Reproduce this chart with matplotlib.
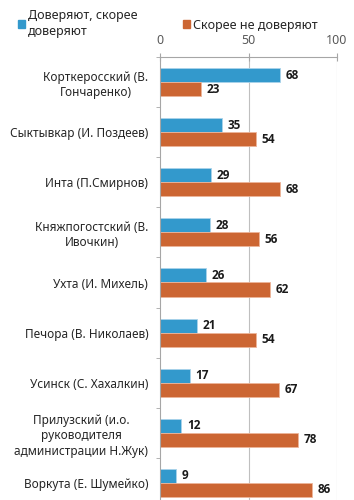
import matplotlib
matplotlib.use("Agg")
import matplotlib.pyplot as plt
from matplotlib.patches import Patch
import numpy as np

plt.rcParams['font.family'] = ['Noto Sans', 'DejaVu Sans']

categories = [
    "Корткеросский (В.\nГончаренко)",
    "Сыктывкар (И. Поздеев)",
    "Инта (П.Смирнов)",
    "Княжпогостский (В.\nИвочкин)",
    "Ухта (И. Михель)",
    "Печора (В. Николаев)",
    "Усинск (С. Хахалкин)",
    "Прилузский (и.о.\nруководителя\nадминистрации Н.Жук)",
    "Воркута (Е. Шумейко)",
]
trust = [68, 35, 29, 28, 26, 21, 17, 12, 9]
distrust = [23, 54, 68, 56, 62, 54, 67, 78, 86]
series_names = ["Доверяют, скорее\nдоверяют", "Скорее не доверяют"]
xticks = [0, 50, 100]

blue = "#3399CC"
orange = "#CC6633"

fig = plt.figure(figsize=(3.54, 5.0), dpi=100)
ax = fig.add_axes([160/354, 1 - 508/500, (337-160)/354, (508-57)/500])

n = len(categories)
y = np.arange(n)
h = 0.28
ax.barh(y - h/2, trust, height=h, color=blue, edgecolor="#A9D3EA", linewidth=0.6)
ax.barh(y + h/2, distrust, height=h, color=orange, edgecolor="#EDB59A", linewidth=0.6)

valfont = dict(fontsize=8.5, fontweight="bold", color="#1a1a1a", family=["Open Sans", "DejaVu Sans"])
for yi, v in zip(y, trust):
    ax.annotate(str(v), (v, yi - h/2), xytext=(4, 0), textcoords="offset points",
                va="center", ha="left", **valfont)
for yi, v in zip(y, distrust):
    ax.annotate(str(v), (v, yi + h/2), xytext=(4, 0), textcoords="offset points",
                va="center", ha="left", **valfont)

ax.set_xlim(0, 100)
ax.set_ylim(n - 0.5, -0.5)
ax.xaxis.tick_top()
ax.set_xticks(xticks)
ax.set_xticklabels([str(t) for t in xticks])
ax.tick_params(axis="x", direction="inout", length=6, color="#A6A6A6", labelcolor="#595959",
               labelsize=9, pad=4)
ax.set_yticks(y)
ax.set_yticklabels(categories, fontsize=8.5, color="#262626", multialignment="center",
                   linespacing=1.25)
ax.tick_params(axis="y", length=0, pad=8.5)
ax.set_yticks(np.arange(n + 1) - 0.5, minor=True)
ax.tick_params(axis="y", which="minor", length=3, color="#A6A6A6", direction="out")

for s in ["right", "bottom"]:
    ax.spines[s].set_visible(False)
for s in ["top", "left"]:
    ax.spines[s].set_color("#A6A6A6")
    ax.spines[s].set_linewidth(0.8)

for xv in [50, 100]:
    ax.axvline(xv, color="#BFBFBF", linewidth=0.8, zorder=0)

handles = [Patch(color=blue), Patch(color=orange)]
fig.legend(handles, series_names, loc="upper left", bbox_to_anchor=(0.018, 1.005), ncol=2,
           frameon=False, fontsize=9, handlelength=0.6, handleheight=0.6, handletextpad=0.25,
           columnspacing=3.6, labelcolor="#262626")
for t in fig.legends[0].get_texts():
    t.set_linespacing(1.35)

fig.savefig("out.png", dpi=100)
